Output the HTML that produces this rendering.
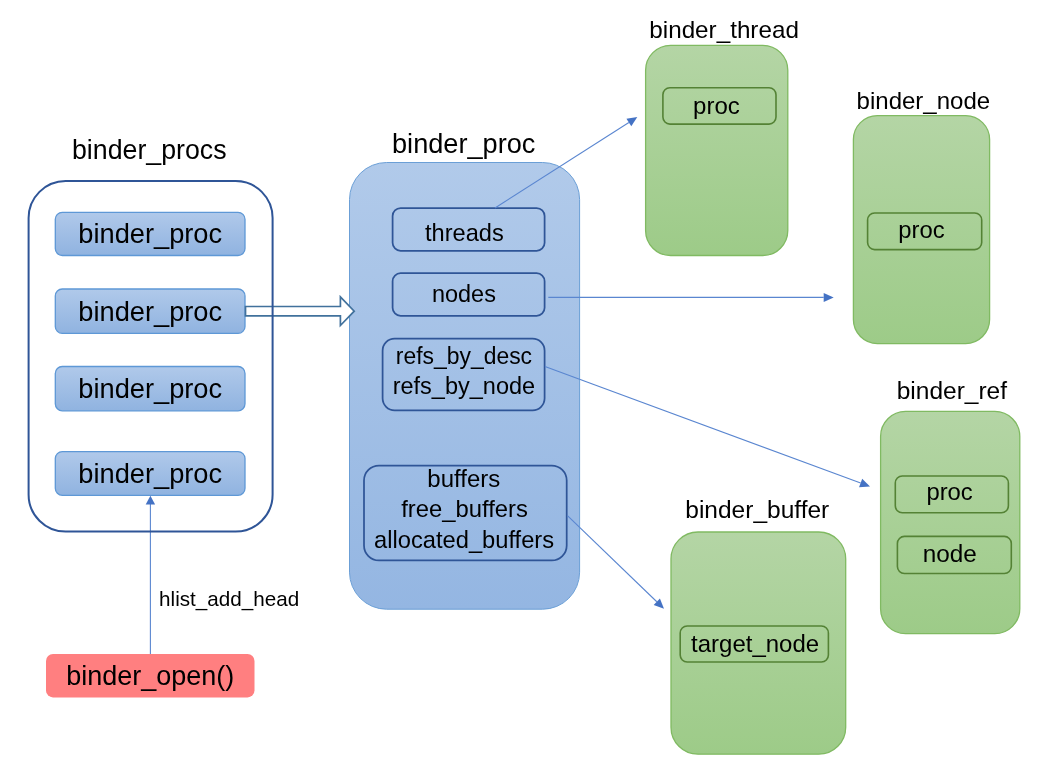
<!DOCTYPE html>
<html><head><meta charset="utf-8"><style>
html,body{margin:0;padding:0;background:#fff;width:1042px;height:769px;overflow:hidden}
svg{display:block;will-change:transform}
text{font-family:"Liberation Sans",sans-serif;fill:#000}
</style></head><body>
<svg width="1042" height="769" viewBox="0 0 1042 769">
<defs>
<linearGradient id="gb" x1="0" y1="0" x2="0" y2="1"><stop offset="0" stop-color="#B1CAEA"/><stop offset="1" stop-color="#94B6E2"/></linearGradient>
<linearGradient id="gbs" x1="0" y1="0" x2="0" y2="1"><stop offset="0" stop-color="#B0C9EA"/><stop offset="1" stop-color="#90B3E0"/></linearGradient>
<linearGradient id="gg" x1="0" y1="0" x2="0" y2="1"><stop offset="0" stop-color="#B4D5A5"/><stop offset="1" stop-color="#9DCB88"/></linearGradient>
</defs>
<rect x="55.3" y="212.3" width="189.70" height="43.20" rx="7" ry="7" fill="url(#gbs)" stroke="#5E98D6" stroke-width="1.3"/>
<rect x="55.3" y="289" width="189.70" height="44.40" rx="7" ry="7" fill="url(#gbs)" stroke="#5E98D6" stroke-width="1.3"/>
<rect x="55.3" y="366.5" width="189.70" height="44.30" rx="7" ry="7" fill="url(#gbs)" stroke="#5E98D6" stroke-width="1.3"/>
<rect x="55.3" y="451.6" width="189.70" height="43.70" rx="7" ry="7" fill="url(#gbs)" stroke="#5E98D6" stroke-width="1.3"/>
<line x1="150.4" y1="654" x2="150.4" y2="504" stroke="#5A86D0" stroke-width="1.1"/>
<path d="M150.4 495.8 L145.7 504.5 L155.1 504.5 Z" fill="#4472C4"/>
<rect x="46" y="654" width="208.50" height="43.40" rx="7" ry="7" fill="#FF7F80" stroke="none" stroke-width="0"/>
<rect x="349.5" y="162.5" width="230.10" height="446.70" rx="37" ry="37" fill="url(#gb)" stroke="#6B9FD6" stroke-width="1"/>
<rect x="392.6" y="208.1" width="152.00" height="42.70" rx="8" ry="8" fill="none" stroke="#2F5597" stroke-width="1.75"/>
<rect x="392.6" y="273.2" width="152.00" height="42.60" rx="8" ry="8" fill="none" stroke="#2F5597" stroke-width="1.75"/>
<rect x="382.6" y="338.7" width="162.00" height="71.60" rx="12" ry="12" fill="none" stroke="#2F5597" stroke-width="1.75"/>
<rect x="364" y="465.6" width="202.70" height="94.80" rx="15" ry="15" fill="none" stroke="#2F5597" stroke-width="1.75"/>
<path d="M245.5 306.5 H340.4 V296.9 L354.2 311.2 L340.4 325.5 V315.8 H245.5 Z" fill="#fff" stroke="#41719C" stroke-width="1.7" stroke-linejoin="miter"/>
<rect x="28.6" y="181" width="244.00" height="350.60" rx="37" ry="37" fill="none" stroke="#2F5597" stroke-width="2"/>
<rect x="645.6" y="45.3" width="142.20" height="210.20" rx="25" ry="25" fill="url(#gg)" stroke="#80BA62" stroke-width="1.3"/>
<rect x="853.4" y="115.6" width="136.20" height="228.00" rx="24" ry="24" fill="url(#gg)" stroke="#80BA62" stroke-width="1.3"/>
<rect x="880.6" y="411.4" width="139.20" height="222.30" rx="25" ry="25" fill="url(#gg)" stroke="#80BA62" stroke-width="1.3"/>
<rect x="671" y="532" width="174.70" height="222.20" rx="27" ry="27" fill="url(#gg)" stroke="#80BA62" stroke-width="1.3"/>
<rect x="662.9" y="87.7" width="113.10" height="36.40" rx="7" ry="7" fill="none" stroke="#548235" stroke-width="1.6"/>
<rect x="867.6" y="213" width="114.10" height="36.60" rx="7" ry="7" fill="none" stroke="#548235" stroke-width="1.6"/>
<rect x="895.3" y="476" width="113.10" height="36.80" rx="7" ry="7" fill="none" stroke="#548235" stroke-width="1.6"/>
<rect x="897.4" y="536.4" width="113.90" height="37.10" rx="7" ry="7" fill="none" stroke="#548235" stroke-width="1.6"/>
<rect x="680.2" y="626" width="148.20" height="36.00" rx="7" ry="7" fill="none" stroke="#548235" stroke-width="1.6"/>
<line x1="495" y1="208" x2="628.87" y2="122.48" stroke="#5A86D0" stroke-width="1.1"/><path d="M637.3 117.1 L631.30 126.28 L626.45 118.69 Z" fill="#4472C4"/>
<line x1="548.3" y1="297.4" x2="823.70" y2="297.40" stroke="#5A86D0" stroke-width="1.1"/><path d="M833.7 297.4 L823.70 301.90 L823.70 292.90 Z" fill="#4472C4"/>
<line x1="545" y1="366.5" x2="860.62" y2="483.04" stroke="#5A86D0" stroke-width="1.1"/><path d="M870 486.5 L859.06 487.26 L862.18 478.81 Z" fill="#4472C4"/>
<line x1="567.7" y1="515.9" x2="656.80" y2="601.76" stroke="#5A86D0" stroke-width="1.1"/><path d="M664 608.7 L653.68 605.00 L659.92 598.52 Z" fill="#4472C4"/>
<text transform="translate(71.93 158.80) scale(0.9911 1)" font-size="27" >binder_procs</text>
<text transform="translate(78.29 243.30) scale(1.0089 1)" font-size="27" >binder_proc</text>
<text transform="translate(78.29 320.60) scale(1.0089 1)" font-size="27" >binder_proc</text>
<text transform="translate(78.29 398.00) scale(1.0089 1)" font-size="27" >binder_proc</text>
<text transform="translate(78.29 482.70) scale(1.0089 1)" font-size="27" >binder_proc</text>
<text transform="translate(66.21 685.20) scale(1.0004 1)" font-size="27" >binder_open()</text>
<text transform="translate(392.00 152.80) scale(1.0060 1)" font-size="27" >binder_proc</text>
<text transform="translate(649.30 38.30) scale(1.0106 1)" font-size="24" >binder_thread</text>
<text transform="translate(856.62 109.30) scale(1.0008 1)" font-size="24" >binder_node</text>
<text transform="translate(896.68 399.40) scale(1.0214 1)" font-size="24" >binder_ref</text>
<text transform="translate(685.28 517.80) scale(1.0219 1)" font-size="24" >binder_buffer</text>
<text transform="translate(425.03 240.80) scale(0.9845 1)" font-size="24" >threads</text>
<text transform="translate(431.96 302.10) scale(0.9781 1)" font-size="24" >nodes</text>
<text transform="translate(395.80 363.90) scale(0.9551 1)" font-size="24" >refs_by_desc</text>
<text transform="translate(392.65 394.40) scale(0.9797 1)" font-size="24" >refs_by_node</text>
<text transform="translate(427.32 486.80) scale(0.9997 1)" font-size="24" >buffers</text>
<text transform="translate(401.16 517.10) scale(0.9930 1)" font-size="24" >free_buffers</text>
<text transform="translate(374.05 547.90) scale(0.9879 1)" font-size="24" >allocated_buffers</text>
<text transform="translate(693.12 113.50) scale(1.0000 1)" font-size="24" >proc</text>
<text transform="translate(898.23 237.70) scale(0.9932 1)" font-size="24" >proc</text>
<text transform="translate(926.43 499.80) scale(0.9932 1)" font-size="24" >proc</text>
<text transform="translate(922.80 562.00) scale(1.0130 1)" font-size="24" >node</text>
<text transform="translate(691.12 651.60) scale(0.9994 1)" font-size="24" >target_node</text>
<text transform="translate(159.05 605.80) scale(1.0086 1)" font-size="20.5" >hlist_add_head</text>
</svg>
</body></html>
